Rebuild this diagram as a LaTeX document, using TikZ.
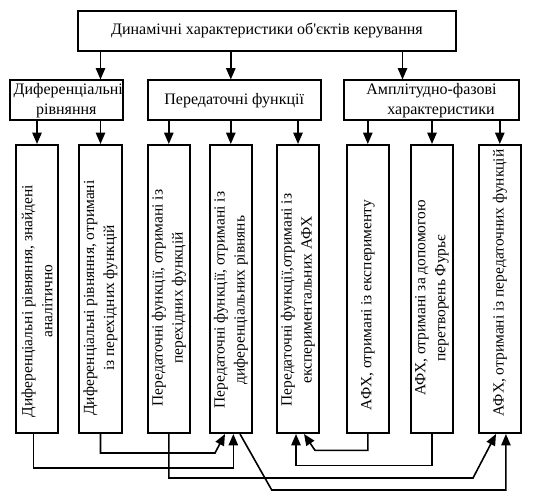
\documentclass[tikz,border=0pt]{standalone}
\usepackage{fontspec}
\setmainfont{Liberation Serif}
\usetikzlibrary{arrows.meta}
\begin{document}
\begin{tikzpicture}[x=0.75pt,y=-0.75pt,
  box/.style={draw, line width=1.5pt, inner sep=0pt},
  arr/.style={line width=1.2pt, -{Triangle[length=8.5pt,width=7pt]}},
  vtext/.style={rotate=90, align=center, inner sep=0pt, font=\fontsize{11.6}{15}\selectfont},
  every node/.style={font=\fontsize{12}{15}\selectfont}]
\useasboundingbox (0,0) rectangle (538,498);
% top box
\node[box, minimum width=283.5pt, minimum height=30pt] (top) at (267,31)
  {Динамічні характеристики об\textquotesingle єктів керування};
% group boxes
\node[box, minimum width=79pt, minimum height=30pt, align=center] (g1) at (66.3,100.5)
  {\hspace*{3pt}Диференціальні\\рівняння};
\node[box, minimum width=130pt, minimum height=30pt] (g2) at (234.2,100.5)
  {Передаточні функції};
\node[box, minimum width=131.5pt, minimum height=30pt, align=left] (g3) at (431.5,100.5)
  {Амплітудно-фазові\\\hspace*{15.75pt}характеристики};
% column boxes
\foreach \n/\x in {1/37,2/100.5,3/168.8,4/230.8,5/298,6/367.8,7/432,8/499.8}
  \node[box, minimum width=31.9pt, minimum height=216pt] (c\n) at (\x,289) {};
% column texts
\node[vtext] (t1) at (37,301) {Диференціальні рівняння, знайдені\\аналітично};
\node[vtext] (t2) at (100.5,298) {Диференціальні рівняння, отримані\\із перехідних функцій};
\node[vtext] (t3) at (168.8,298) {Передаточні функції, отримані із\\перехідних функцій};
\node[vtext] (t4) at (230.8,300) {Передаточні функції, отримані із\\диференціальних рівнянь};
\node[vtext] (t5) at (298,300) {Передаточні функції,отримані із\\експериментальних АФХ};
\node[vtext] (t6) at (367.8,305) {АФХ, отримані із експерименту};
\node[vtext] (t7) at (432,298) {АФХ, отримані за допомогою\\перетворень Фурьє};
\node[vtext] (t8) at (499.8,283) {АФХ, отримані із передаточних функцій};
% top arrows
\draw[arr] (top.south -| c2.north) -- (g1.north -| c2.north);
\draw[arr] (top.south -| c4.north) -- (g2.north -| c4.north);
\draw[arr] ([xshift=-21.75pt]g3.north |- top.south) -- ([xshift=-21.75pt]g3.north);
% group to column arrows
\draw[arr] (g1.south -| c1.north) -- (c1.north);
\draw[arr] (g1.south -| c2.north) -- (c2.north);
\draw[arr] (g2.south -| c3.north) -- (c3.north);
\draw[arr] (g2.south -| c4.north) -- (c4.north);
\draw[arr] (g2.south -| c5.north) -- (c5.north);
\draw[arr] (g3.south -| c6.north) -- (c6.north);
\draw[arr] (g3.south -| c7.north) -- (c7.north);
\draw[arr] (g3.south -| c8.north) -- (c8.north);
% bottom connectors
\draw[arr] ([xshift=-2.75pt]c1.south) -- ++(0,34) -| ([xshift=1.9pt]c4.south);
\draw[arr] (c2.south) -- ++(0,19) -- ++(114.5,0) -- ([xshift=-4.35pt]c4.south);
\draw[arr] (c3.south) -- ++(0,44) -- ++(304.2,0) -- ([xshift=-2.85pt]c8.south);
\draw[arr] ([xshift=6.9pt]c4.south) -- ++(31.7,56) -| ([xshift=4.6pt]c8.south);
\draw[arr] (c6.south) -- ++(0,16.3) -- ++(-52.8,0) -- ([xshift=4.5pt]c5.south);
\draw[arr] (c7.south) -- ++(0,31.3) -| ([xshift=-1.5pt]c5.south);
\end{tikzpicture}
\end{document}
